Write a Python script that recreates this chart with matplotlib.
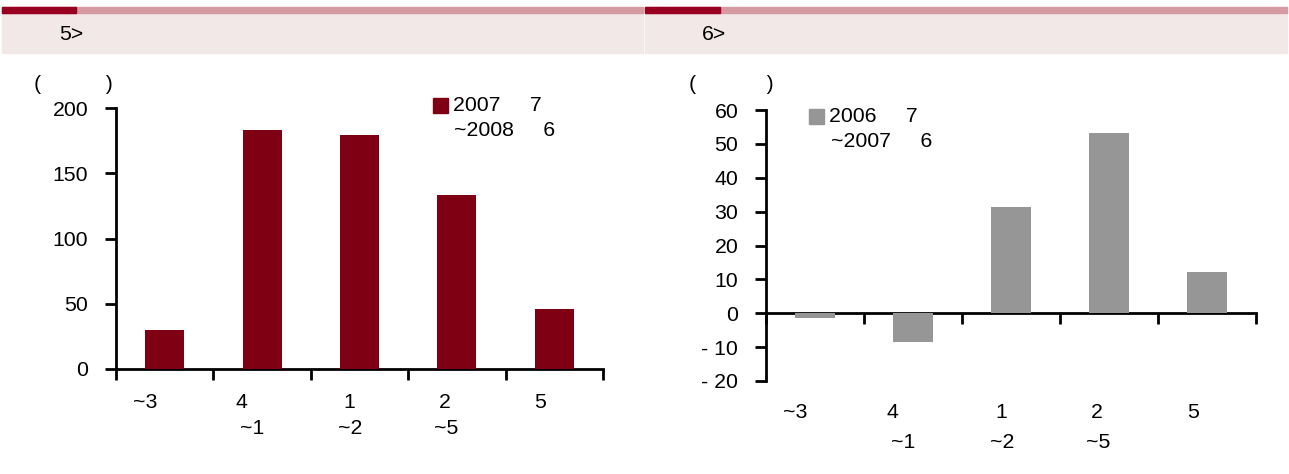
import matplotlib
matplotlib.use("Agg")
import matplotlib.pyplot as plt
from matplotlib.patches import Rectangle

plt.rcParams['font.family'] = ['Liberation Sans', 'DejaVu Sans']

# ---- data ----
cat_line1 = ["~3", "4", "1", "2", "5"]
cat_line2 = ["", "~1", "~2", "~5", ""]
left_values = [30, 183, 179, 133, 46]
right_values = [-1.5, -8.5, 31.3, 53.2, 12.3]
left_title = "5>"
right_title = "6>"
left_legend = ["2007     7", "~2008     6"]
right_legend = ["2006     7", "~2007     6"]
left_yticks = [0, 50, 100, 150, 200]
right_yticks = [-20, -10, 0, 10, 20, 30, 40, 50, 60]
left_unit = "(" + " " * 11 + ")"
right_unit = "(" + " " * 12 + ")"

DARK = "#7F0012"
GRAY = "#969696"
W, H = 1289, 474
fig = plt.figure(figsize=(W / 100, H / 100), dpi=100)
FS = 15.3


def fx(px):
    return px / W


def fy(py):
    return 1 - py / H


# headers
for x0, x1, dark_end, title in [(2, 643, 76, left_title), (645, 1287, 720, right_title)]:
    fig.patches.append(Rectangle((fx(x0), fy(53)), fx(x1 - x0), (53 - 13) / H,
                                 transform=fig.transFigure, color="#F3E8E8", zorder=0))
    fig.patches.append(Rectangle((fx(x0), fy(13)), fx(x1 - x0), 6 / H,
                                 transform=fig.transFigure, color="#D69AA2", zorder=1))
    fig.patches.append(Rectangle((fx(x0), fy(13)), fx(dark_end - x0), 6 / H,
                                 transform=fig.transFigure, color="#990020", zorder=2))
    fig.text(fx(x0 + 57), fy(35), title, fontsize=FS, va='center', ha='left')


def style_axis(ax, yticks, ylabels):
    ax.set_xlim(-0.5, 4.5)
    ax.set_xticks([i - 0.5 for i in range(6)])
    ax.set_xticklabels([])
    ax.set_yticks(yticks)
    ax.set_yticklabels(ylabels, fontsize=FS)
    for s in ['top', 'right']:
        ax.spines[s].set_visible(False)
    for s in ['left', 'bottom']:
        ax.spines[s].set_linewidth(2)
    ax.tick_params(axis='both', direction='out', width=2, length=8, pad=12)
    ax.patch.set_alpha(0)


# left chart
axL = fig.add_axes([fx(116), fy(369), fx(603 - 116), (369 - 108) / H])
axL.bar(range(5), left_values, width=0.4, color=DARK, zorder=3)
axL.set_ylim(0, 200)
style_axis(axL, left_yticks, [str(v) for v in left_yticks])

# right chart
axR = fig.add_axes([fx(766), fy(381), fx(1256 - 766), (381 - 110) / H])
axR.bar(range(5), right_values, width=0.4, color=GRAY, zorder=3)
axR.set_ylim(-20, 60)
style_axis(axR, right_yticks, [("- " + str(-v)) if v < 0 else str(v) for v in right_yticks])
axR.spines['bottom'].set_position(('data', 0))

# category labels
l1_off = [-20, -21, -10, -12, -14]
l2_off = [0, -10, -9, -11, 0]
for ax, d1, d2 in [(axL, -33, -59), (axR, -32, -61)]:
    for i in range(5):
        ax.annotate(cat_line1[i], xy=(i, 0), xycoords=('data', 'axes fraction'),
                    xytext=(l1_off[i], d1), textcoords='offset pixels',
                    ha='center', va='center', fontsize=FS)
        if cat_line2[i]:
            ax.annotate(cat_line2[i], xy=(i, 0), xycoords=('data', 'axes fraction'),
                        xytext=(l2_off[i], d2), textcoords='offset pixels',
                        ha='center', va='center', fontsize=FS)

# unit labels
fig.text(fx(34), fy(84), left_unit, fontsize=FS, va='center', ha='left')
fig.text(fx(689), fy(84), right_unit, fontsize=FS, va='center', ha='left')

# legends
for sq_x, sq_y, col, labels, tx1, tx2 in [(433, 98, DARK, left_legend, 453, 454),
                                          (809, 109, GRAY, right_legend, 829, 831)]:
    fig.patches.append(Rectangle((fx(sq_x), fy(sq_y + 15)), 15 / W, 15 / H,
                                 transform=fig.transFigure, color=col))
    fig.text(fx(tx1), fy(sq_y + 7.5), labels[0], fontsize=FS, va='center', ha='left')
    fig.text(fx(tx2), fy(sq_y + 32.5), labels[1], fontsize=FS, va='center', ha='left')

fig.savefig("out.png", dpi=100)
